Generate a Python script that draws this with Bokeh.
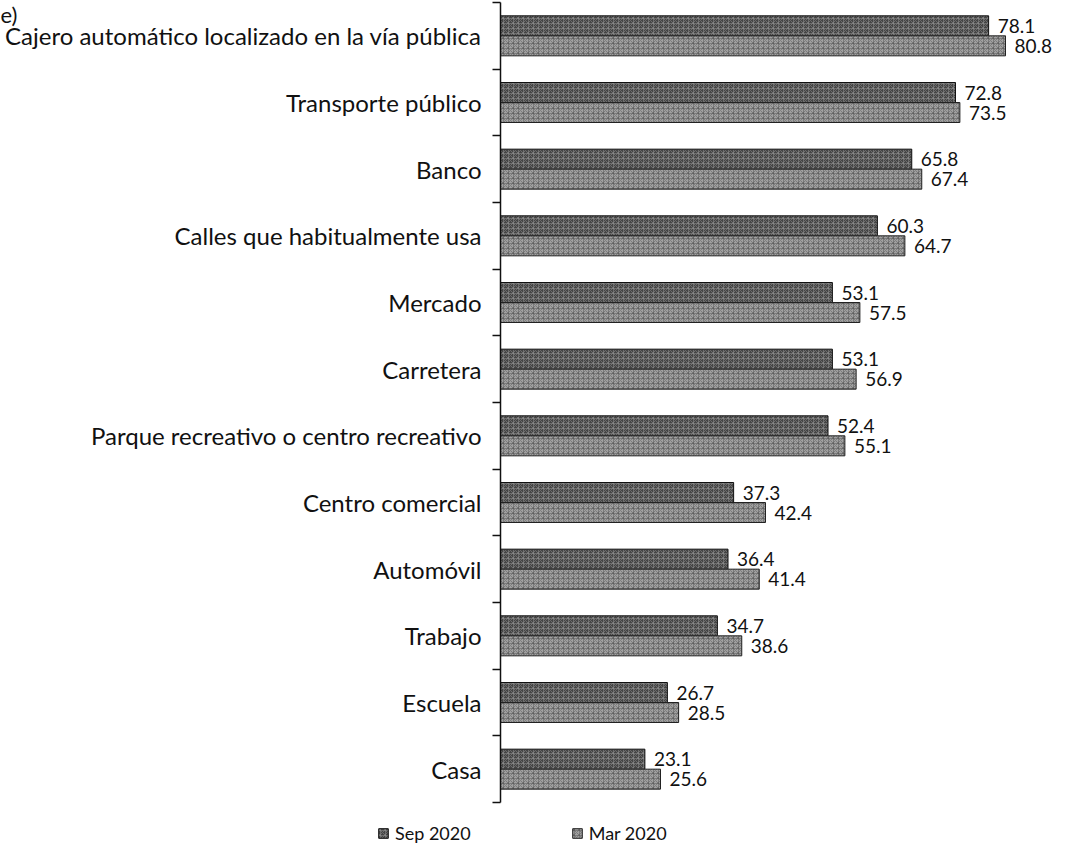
from bokeh.plotting import figure
from bokeh.models import (ColumnDataSource, Range1d, FixedTicker, Legend, LegendItem, Label)
from bokeh.core.properties import value
from bokeh.embed import file_html
from bokeh.resources import INLINE

categories = ["Cajero automático localizado en la vía pública", "Transporte público", "Banco",
              "Calles que habitualmente usa", "Mercado", "Carretera",
              "Parque recreativo o centro recreativo", "Centro comercial", "Automóvil",
              "Trabajo", "Escuela", "Casa"]
sep_2020 = [78.1, 72.8, 65.8, 60.3, 53.1, 53.1, 52.4, 37.3, 36.4, 34.7, 26.7, 23.1]
mar_2020 = [80.8, 73.5, 67.4, 64.7, 57.5, 56.9, 55.1, 42.4, 41.4, 38.6, 28.5, 25.6]
series_names = ["Sep 2020", "Mar 2020"]

n = len(categories)
centers = [n - 1 - i + 0.5 for i in range(n)]
off = 0.15
src = ColumnDataSource(dict(
    cat=categories, c=centers,
    y_sep=[c + off for c in centers], y_mar=[c - off for c in centers],
    sep=sep_2020, mar=mar_2020,
    sep_t=[f"{v:.1f}" for v in sep_2020], mar_t=[f"{v:.1f}" for v in mar_2020],
))

FONT = "Lato"
W, H = 1059, 844
p = figure(width=W, height=H, output_backend="svg", toolbar_location=None,
           x_range=Range1d(-80.0, 89.44), y_range=Range1d(-0.63, n + 0.03),
           x_axis_location=None, min_border=0)
p.outline_line_color = None
p.grid.visible = False

bh = 0.3
r_sep = p.hbar(y="y_sep", right="sep", left=0, height=bh, source=src,
               fill_color="#454545", line_color="#111111", line_width=1,
               hatch_pattern="criss_cross", hatch_color="#909090", hatch_scale=5, hatch_alpha=0.55)
r_mar = p.hbar(y="y_mar", right="mar", left=0, height=bh, source=src,
               fill_color="#a0a0a0", line_color="#222222", line_width=1,
               hatch_pattern="criss_cross", hatch_color="#555555", hatch_scale=5, hatch_alpha=0.5)

p.text(x="sep", y="y_sep", text="sep_t", source=src, x_offset=9,
       text_font=value(FONT), text_font_size="19px", text_baseline="middle", text_color="#111111")
p.text(x="mar", y="y_mar", text="mar_t", source=src, x_offset=9,
       text_font=value(FONT), text_font_size="19px", text_baseline="middle", text_color="#111111")

ax = p.yaxis[0]
ax.fixed_location = 0
ax.bounds = (0, n)
ax.ticker = FixedTicker(ticks=centers, minor_ticks=list(range(n + 1)))
ax.major_label_overrides = {c: name for c, name in zip(centers, categories)}
ax.major_tick_line_color = None
ax.major_tick_out = 0
ax.major_tick_in = 0
ax.minor_tick_out = 8
ax.minor_tick_in = 0
ax.minor_tick_line_color = "#111111"
ax.minor_tick_line_width = 1.5
ax.axis_line_color = "#111111"
ax.axis_line_width = 1.5
ax.major_label_standoff = 11
ax.major_label_text_font = FONT
ax.major_label_text_font_size = "24px"
ax.major_label_text_color = "#111111"

legend = Legend(items=[LegendItem(label=series_names[0], renderers=[r_sep]),
                       LegendItem(label=series_names[1], renderers=[r_mar])],
                orientation="horizontal", location=(377, 0), spacing=100,
                glyph_width=12, glyph_height=12, label_standoff=6, padding=0, margin=0,
                label_text_font=FONT, label_text_font_size="18px", label_text_color="#111111",
                border_line_color=None, background_fill_alpha=0)
p.add_layout(legend, "center")

p.add_layout(Label(x=0, y=H, x_units="screen", y_units="screen", text="e)",
                   text_font=FONT, text_font_size="22px", text_baseline="top",
                   text_color="#111111"))

open("out.html", "w").write(file_html(p, INLINE))
